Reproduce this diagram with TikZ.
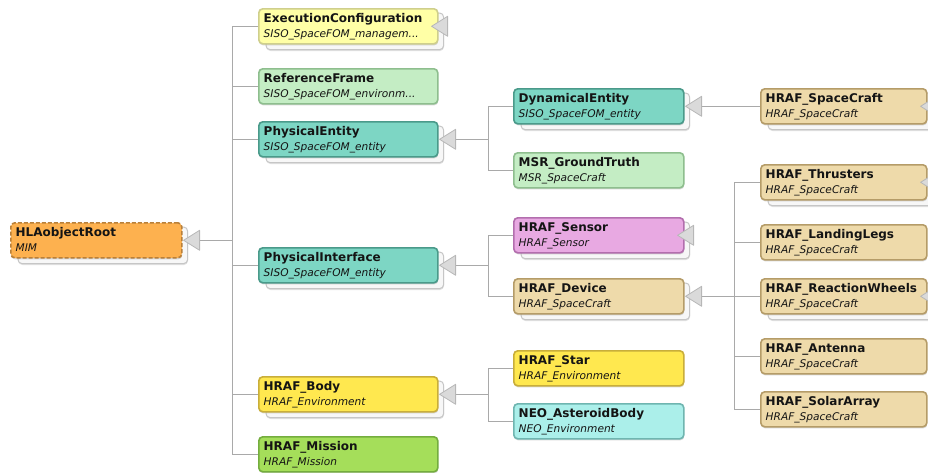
\documentclass[tikz,border=0pt]{standalone}
\usepackage{fontspec}
\setmainfont{DejaVu Sans}
\usetikzlibrary{backgrounds,shadows}

% fills and borders of the class boxes
\definecolor{orangeF}{HTML}{FDB14F}\definecolor{orangeD}{HTML}{B9803A}
\definecolor{paleyelF}{HTML}{FFFFA6}\definecolor{paleyelD}{HTML}{CFCF8C}
\definecolor{lgreenF}{HTML}{C4EDC4}\definecolor{lgreenD}{HTML}{8EBE8E}
\definecolor{tealF}{HTML}{7DD6C4}\definecolor{tealD}{HTML}{4A9A8A}
\definecolor{pinkF}{HTML}{E8A9E2}\definecolor{pinkD}{HTML}{B36EAE}
\definecolor{tanF}{HTML}{EEDAAA}\definecolor{tanD}{HTML}{B59C68}
\definecolor{yelF}{HTML}{FFE84F}\definecolor{yelD}{HTML}{C9AE3A}
\definecolor{mgreenF}{HTML}{A5DE5A}\definecolor{mgreenD}{HTML}{74AD3E}
\definecolor{cyanF}{HTML}{ABEFEA}\definecolor{cyanD}{HTML}{6FB5B0}
% connectors, inheritance triangles and stacked cards
\definecolor{lineC}{HTML}{A9A9A9}
\definecolor{triF}{HTML}{DADADA}\definecolor{triD}{HTML}{B7B7B7}
\definecolor{cardF}{HTML}{F7F7F7}\definecolor{cardD}{HTML}{C6C6C6}

\tikzset{
  clsbox/.style={rectangle, rounded corners=4pt, minimum height=35pt, inner sep=0pt,
    line width=1.6pt,
    drop shadow={shadow xshift=0.4pt, shadow yshift=-1.6pt, opacity=0.25, fill=black!60}},
  orangebox/.style={fill=orangeF, draw=orangeD, dash pattern=on 4pt off 2pt},
  paleyelbox/.style={fill=paleyelF, draw=paleyelD},
  lgreenbox/.style={fill=lgreenF, draw=lgreenD},
  tealbox/.style={fill=tealF, draw=tealD},
  pinkbox/.style={fill=pinkF, draw=pinkD},
  tanbox/.style={fill=tanF, draw=tanD},
  yelbox/.style={fill=yelF, draw=yelD},
  mgreenbox/.style={fill=mgreenF, draw=mgreenD},
  cyanbox/.style={fill=cyanF, draw=cyanD},
  ttl/.style={inner sep=0pt, font=\bfseries\fontsize{12}{14}\selectfont, text=black!92},
  sub/.style={inner sep=0pt, font=\itshape\fontsize{10.6}{12}\selectfont, text=black!92},
  conn/.style={draw=lineC, line width=1pt},
  trist/.style={fill=triF, draw=triD, line width=0.8pt, line join=round},
  cardst/.style={fill=cardF, draw=cardD, line width=1pt, rounded corners=4pt,
    drop shadow={shadow xshift=0.4pt, shadow yshift=-1.4pt, opacity=0.2, fill=black!60}},
}

% class box: name, left x, top y, width, colour style, title, package
\newcommand\clsnode[7]{%
  \node[clsbox,#5,minimum width=#4pt,anchor=north west] (#1) at (#2,#3) {};
  \node[ttl,anchor=base west] (#1-title) at ([shift={(5.5,14.5)}]#1.north west) {#6};
  \node[sub,anchor=base west] (#1-sub) at ([shift={(5.5,29)}]#1.north west) {#7};
}
% stacked card behind a box that has subclasses
\newcommand\stackcard[1]{%
  \draw[cardst] ([shift={(8,5)}]#1.north west) rectangle ([shift={(5,5)}]#1.south east);
}
% open inheritance triangle of an expanded box
\newcommand\opentri[1]{%
  \draw[trist] ([xshift=1pt]#1.east) -- ++(16,-10) -- ++(0,20) -- cycle;
}
% triangle of a collapsed box
\newcommand\shuttri[1]{%
  \draw[trist] ([xshift=-7pt]#1.east) -- ++(16,-10) -- ++(0,20) -- cycle;
}

\begin{document}
\begin{tikzpicture}[x=1pt,y=-1pt]
\useasboundingbox (0,0) rectangle (928,472);

% root
\clsnode{root}{10}{222}{171}{orangebox}{HLAobjectRoot}{MIM}
% second column
\clsnode{execconf}{258}{8}{179}{paleyelbox}{ExecutionConfiguration}{SISO\_SpaceFOM\_managem...}
\clsnode{refframe}{258}{68}{179}{lgreenbox}{ReferenceFrame}{SISO\_SpaceFOM\_environm...}
\clsnode{physent}{258}{121}{179}{tealbox}{PhysicalEntity}{SISO\_SpaceFOM\_entity}
\clsnode{physint}{258}{247}{179}{tealbox}{PhysicalInterface}{SISO\_SpaceFOM\_entity}
\clsnode{body}{258}{376}{179}{yelbox}{HRAF\_Body}{HRAF\_Environment}
\clsnode{mission}{258}{436}{179}{mgreenbox}{HRAF\_Mission}{HRAF\_Mission}
% third column
\clsnode{dynent}{513}{88}{170}{tealbox}{DynamicalEntity}{SISO\_SpaceFOM\_entity}
\clsnode{msr}{513}{152}{170}{lgreenbox}{MSR\_GroundTruth}{MSR\_SpaceCraft}
\clsnode{sensor}{513}{217}{170}{pinkbox}{HRAF\_Sensor}{HRAF\_Sensor}
\clsnode{device}{513}{278}{170}{tanbox}{HRAF\_Device}{HRAF\_SpaceCraft}
\clsnode{star}{513}{350}{170}{yelbox}{HRAF\_Star}{HRAF\_Environment}
\clsnode{neo}{513}{403}{170}{cyanbox}{NEO\_AsteroidBody}{NEO\_Environment}
% fourth column
\clsnode{spacecraft}{760}{88}{166}{tanbox}{HRAF\_SpaceCraft}{HRAF\_SpaceCraft}
\clsnode{thrusters}{760}{164}{166}{tanbox}{HRAF\_Thrusters}{HRAF\_SpaceCraft}
\clsnode{legs}{760}{224}{166}{tanbox}{HRAF\_LandingLegs}{HRAF\_SpaceCraft}
\clsnode{wheels}{760}{278}{166}{tanbox}{HRAF\_ReactionWheels}{HRAF\_SpaceCraft}
\clsnode{antenna}{760}{338}{166}{tanbox}{HRAF\_Antenna}{HRAF\_SpaceCraft}
\clsnode{solar}{760}{391}{166}{tanbox}{HRAF\_SolarArray}{HRAF\_SpaceCraft}

% hook points at the base of the open triangles
\foreach \n in {root,physent,physint,body,dynent,device}{
  \coordinate (\n-hook) at ([xshift=17pt]\n.east);
}

\begin{scope}[on background layer]
  \foreach \n in {root,execconf,physent,physint,body,dynent,sensor,device,spacecraft,thrusters,wheels}{
    \stackcard{\n}
  }
  % generalisation connectors
  \foreach \c in {execconf,refframe,physent,physint,body,mission}{
    \draw[conn] (\c.west) -- ++(-26,0) |- (root-hook);
  }
  \foreach \c in {dynent,msr}{
    \draw[conn] (\c.west) -- ++(-25,0) |- (physent-hook);
  }
  \foreach \c in {sensor,device}{
    \draw[conn] (\c.west) -- ++(-25,0) |- (physint-hook);
  }
  \foreach \c in {star,neo}{
    \draw[conn] (\c.west) -- ++(-25,0) |- (body-hook);
  }
  \draw[conn] (spacecraft.west) -- (dynent-hook);
  \foreach \c in {thrusters,legs,wheels,antenna,solar}{
    \draw[conn] (\c.west) -- ++(-26,0) |- (device-hook);
  }
\end{scope}

\foreach \n in {root,physent,physint,body,dynent,device}{
  \opentri{\n}
}
\foreach \n in {execconf,sensor,spacecraft,thrusters,wheels}{
  \shuttri{\n}
}
\end{tikzpicture}
\end{document}
